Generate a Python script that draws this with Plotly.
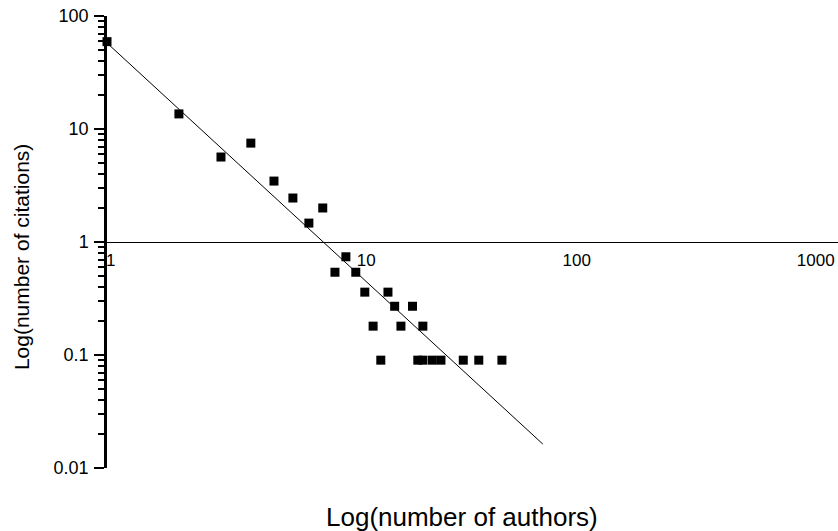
import plotly.graph_objects as go

# ---- data ----
authors = [1, 2, 3, 4, 5, 6, 7, 8, 9, 10, 11, 12, 13, 14, 15, 16, 17, 19,
           20, 21, 21, 23, 25, 31, 36, 45]
citations = [59.3, 13.6, 5.65, 7.5, 3.46, 2.45, 1.47, 2.0, 0.54, 0.74, 0.54,
             0.36, 0.18, 0.09, 0.36, 0.27, 0.18, 0.27,
             0.09, 0.18, 0.09, 0.09, 0.09, 0.09, 0.09, 0.09]

# fitted power-law line end points
fit_x = [1, 66.7]
fit_y = [57.7, 0.0163]

x_tickvals = [1, 10, 100, 1000]
x_ticktext = ["1", "10", "100", "1000"]
y_tickvals = [0.01, 0.1, 1, 10, 100]
y_ticktext = ["0.01", "0.1", "1", "10", "100"]

x_title = "Log(number of authors)"
y_title = "Log(number of citations)"

# ---- styling ----
FONT = "Liberation Sans, Arial, Helvetica, sans-serif"
NBSP = "\u00a0"
# leading non-breaking spaces nudging labels right, mimicking the off-centre
# label placement of the original figure (axis-wide shift moves them left)
x_label_lead = [5, 12, 0, 0]
x_label_shift = -8

x_ticktext_shown = [NBSP * n + t for t, n in zip(x_ticktext, x_label_lead)]

y_minor = [k * 10 ** d for d in (-2, -1, 0, 1) for k in range(2, 10)]

fig = go.Figure()
fig.add_trace(go.Scatter(
    x=fit_x, y=fit_y, mode="lines",
    line=dict(color="black", width=1),
    showlegend=False, hoverinfo="skip", cliponaxis=False,
))
fig.add_trace(go.Scatter(
    x=authors, y=citations, mode="markers",
    marker=dict(symbol="square", size=9, color="black", line=dict(width=0)),
    showlegend=False, cliponaxis=False,
))

fig.update_layout(
    width=838, height=531, autosize=False,
    margin=dict(l=107, r=0, t=16, b=63, pad=0),
    paper_bgcolor="white", plot_bgcolor="white",
    font=dict(family=FONT, color="black"),
    xaxis=dict(
        type="log", range=[0, 3.06], automargin=False,
        anchor="free", position=0.5,
        showline=True, linecolor="black", linewidth=1.2,
        ticks="", showgrid=False, zeroline=False,
        tickvals=x_tickvals, ticktext=x_ticktext_shown,
        tickfont=dict(size=17, family=FONT, color="black"),
        ticklabelstandoff=2, ticklabelshift=x_label_shift,
        ticklabeloverflow="allow",
    ),
    yaxis=dict(
        type="log", range=[-2, 2], automargin=False,
        showline=True, linecolor="black", linewidth=2.5,
        ticks="outside", ticklen=10, tickwidth=2, tickcolor="black",
        showgrid=False, zeroline=False,
        tickvals=y_tickvals, ticktext=y_ticktext,
        tickfont=dict(size=18, family=FONT, color="black"),
        ticklabelstandoff=2,
        minor=dict(ticks="outside", ticklen=6, tickwidth=1.5,
                   tickcolor="black", tickvals=y_minor, showgrid=False),
    ),
    annotations=[
        dict(text=x_title, xref="paper", yref="paper", x=0.486, y=-0.108,
             xanchor="center", yanchor="middle", showarrow=False,
             font=dict(size=26, family=FONT, color="black")),
        dict(text=y_title, xref="paper", yref="paper", x=-0.116, y=0.467,
             xanchor="center", yanchor="middle", showarrow=False,
             textangle=-90,
             font=dict(size=21, family=FONT, color="black")),
    ],
)

fig.write_html(
    "out.html",
    config={"displayModeBar": False},
    post_script="document.body.style.margin='0';"
                "document.body.style.overflow='hidden';",
)
